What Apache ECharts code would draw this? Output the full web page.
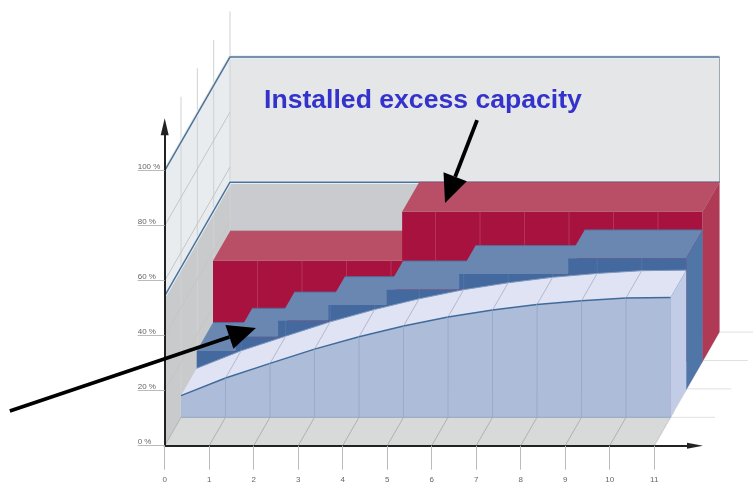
<!DOCTYPE html>
<html>
<head>
<meta charset="utf-8">
<style>html,body{margin:0;padding:0;background:#fff}#chart-container{width:753px;height:485px}</style>
<script src="https://cdn.jsdelivr.net/npm/echarts@6/dist/echarts.min.js"></script>
</head>
<body>
<div id="chart-container"></div>
<script>
// axis values
var xTicks = [0, 1, 2, 3, 4, 5, 6, 7, 8, 9, 10, 11];
var yTicks = [0, 20, 40, 60, 80, 100];

// installed capacity (red), steps: [from, to, percent]
var capacitySteps = [[0, 4.25, 36.7], [4.25, 11, 54.5]];
// blue staircase
var stepEdges = [0, 0.88, 1.83, 2.96, 4.27, 5.9, 8.35, 11];
var stepLevels = [14.2, 19.4, 25.3, 30.9, 36.6, 42.2, 47.9];
// light blue curve, one value per x tick
var curveValues = [7.9, 14.3, 19.6, 24.8, 29.3, 33.2, 36.5, 39, 41, 42.4, 43.4, 43.6];
var capacityLine = 54.5;
var wallTop = 116.6;

// annotation arrows in axis values: [tailX, tailY, tipX, tipY]
var arrows = [[7.02, 118.4, 6.3, 88.3], [-3.48, 12.6, 2.05, 42.8]];

// oblique projection: depth 0 is the axis plane, depth 1 the back wall
var DEPTH_DX = 65.3;
var DEPTH_DY = -113.6;

function pt(api, x, y, d) {
    var p = api.coord([x, y]);
    return [p[0] + d * DEPTH_DX, p[1] + d * DEPTH_DY];
}
function poly(points, fill) {
    return { type: 'polygon', shape: { points: points }, style: { fill: fill } };
}
function line(points, color, width) {
    return { type: 'polyline', shape: { points: points }, style: { fill: null, stroke: color, lineWidth: width || 1 } };
}

// box between two depths, drawn left to right so the next step covers this one
function renderBox(api, x0, x1, level, d0, d1, c, isLast) {
    var kids = [];
    kids.push(poly([pt(api, x0, level, d0), pt(api, x1, level, d0), pt(api, x1, 0, d0), pt(api, x0, 0, d0)], c.face));
    xTicks.forEach(function (t) {
        if (t > x0 && t < x1) {
            kids.push(line([pt(api, t, level, d0), pt(api, t, 0, d0)], c.grid));
        }
    });
    kids.push(poly([pt(api, x0, level, d0), pt(api, x1, level, d0), pt(api, x1, level, d1), pt(api, x0, level, d1)], c.top));
    if (isLast) {
        kids.push(poly([pt(api, x1, level, d0), pt(api, x1, level, d1), pt(api, x1, 0, d1), pt(api, x1, 0, d0)], c.side));
    }
    kids.push(line([pt(api, x0, level, d1), pt(api, x1, level, d1)], c.edge));
    return { type: 'group', children: kids };
}

function renderWalls(params, api) {
    var kids = [];
    var xMax = xTicks[xTicks.length - 1];
    var gridCol = '#c4c6c8';
    // upper back and side panes
    kids.push(poly([pt(api, 0, 100, 1), pt(api, xMax, 100, 1), pt(api, xMax, capacityLine, 1), pt(api, 0, capacityLine, 1)], '#e4e6e8'));
    kids.push(poly([pt(api, 0, 100, 0), pt(api, 0, 100, 1), pt(api, 0, capacityLine, 1), pt(api, 0, capacityLine, 0)], '#e9ecee'));
    // lower back and side panes, floor
    kids.push(poly([pt(api, 0, capacityLine, 1), pt(api, xMax, capacityLine, 1), pt(api, xMax, 0, 1), pt(api, 0, 0, 1)], '#c9cbce'));
    kids.push(poly([pt(api, 0, capacityLine, 0), pt(api, 0, capacityLine, 1), pt(api, 0, 0, 1), pt(api, 0, 0, 0)], '#c8cacc'));
    kids.push(poly([pt(api, 0, 0, 0), pt(api, xMax, 0, 0), pt(api, xMax, 0, 1), pt(api, 0, 0, 1)], '#d8dada'));
    // depth lines on the side wall
    [0.25, 0.5, 0.75, 1].forEach(function (d) {
        kids.push(line([pt(api, 0, 0, d), pt(api, 0, wallTop, d)], '#cfd1d4'));
        kids.push(line([pt(api, xMax, 0, d), pt(api, xMax + 1, 0, d)], '#e0e0e0'));
    });
    yTicks.forEach(function (v) {
        if (v > 0 && v < 100) {
            kids.push(line([pt(api, 0, v, 0), pt(api, 0, v, 1)], gridCol));
        }
    });
    // floor lines
    xTicks.forEach(function (t) {
        kids.push(line([pt(api, t, 0, 0), pt(api, t, 0, 0.3)], '#b0b2b2'));
    });
    kids.push(line([pt(api, xMax, 0, 0), pt(api, xMax, 0, 1)], '#d8d8d8'));
    // 100 % frame and capacity frame, each with a pale halo
    var frameTop = [pt(api, 0, 100, 0), pt(api, 0, 100, 1), pt(api, xMax, 100, 1)];
    var frameLow = [pt(api, 0, capacityLine, 0), pt(api, 0, capacityLine, 1), pt(api, xMax, capacityLine, 1)];
    kids.push(line(frameTop, '#e3eef5', 3.5));
    kids.push(line(frameLow, '#e3eef5', 3.5));
    kids.push(line([pt(api, xMax, 100, 1), pt(api, xMax, capacityLine, 1)], '#9aa6b4'));
    kids.push(line(frameTop, '#56738f', 1.5));
    kids.push(line(frameLow, '#4f7196', 1.5));
    return { type: 'group', children: kids };
}

var redCol = { face: '#a8123f', top: '#b84f66', side: '#b03a56', grid: '#b5345c', edge: '#a84a60' };
var blueCol = { face: '#43699f', top: '#6a87b2', side: '#5076a8', grid: '#4f74a8', edge: '#4f6f9c' };

function renderCapacity(params, api) {
    var i = params.dataIndex;
    return renderBox(api, api.value(0), api.value(1), api.value(2), 0.74, 1, redCol, i === capacitySteps.length - 1);
}
function renderSteps(params, api) {
    var i = params.dataIndex;
    return renderBox(api, api.value(0), api.value(1), api.value(2), 0.49, 0.74, blueCol, i === stepLevels.length - 1);
}

// one strip of the curved block per tick interval
function renderCurve(params, api) {
    var x0 = api.value(0), y0 = api.value(1), x1 = api.value(2), y1 = api.value(3);
    var d0 = 0.25, d1 = 0.49;
    var kids = [];
    kids.push(poly([pt(api, x0, y0, d0), pt(api, x1, y1, d0), pt(api, x1, 0, d0), pt(api, x0, 0, d0)], '#adbcd9'));
    kids.push(poly([pt(api, x0, y0, d0), pt(api, x1, y1, d0), pt(api, x1, y1, d1), pt(api, x0, y0, d1)], '#e0e3f3'));
    kids.push(line([pt(api, x0, y0, d1), pt(api, x1, y1, d1)], '#7f97bd'));
    if (x0 > 0) {
        kids.push(line([pt(api, x0, y0, d0), pt(api, x0, 0, d0)], '#9babc8'));
        kids.push(line([pt(api, x0, y0, d0), pt(api, x0, y0, d1)], '#bcbed2'));
    }
    if (x1 === xTicks[xTicks.length - 1]) {
        kids.push(line([pt(api, x1, y1, d0), pt(api, x1, 0, d0)], '#94a4c2'));
        kids.push(poly([pt(api, x1, y1, d0), pt(api, x1, y1, d1), pt(api, x1, 0, d1), pt(api, x1, 0, d0)], '#c3cce6'));
    }
    kids.push(line([pt(api, x0, 0, d0), pt(api, x1, 0, d0)], '#94a4c2'));
    kids.push(line([pt(api, x0, y0, d0), pt(api, x1, y1, d0)], '#3f6b9b', 1.5));
    return { type: 'group', children: kids };
}

function renderArrow(params, api) {
    var tail = api.coord([api.value(0), api.value(1)]);
    var tip = api.coord([api.value(2), api.value(3)]);
    var dx = tip[0] - tail[0], dy = tip[1] - tail[1];
    var len = Math.sqrt(dx * dx + dy * dy);
    var ux = dx / len, uy = dy / len;
    var headLen = 28, headHalf = 12.5;
    var base = [tip[0] - ux * headLen, tip[1] - uy * headLen];
    return {
        type: 'group',
        children: [
            { type: 'line', shape: { x1: tail[0], y1: tail[1], x2: base[0], y2: base[1] }, style: { stroke: '#000', lineWidth: 3.8 } },
            poly([tip, [base[0] - uy * headHalf, base[1] + ux * headHalf], [base[0] + uy * headHalf, base[1] - ux * headHalf]], '#000')
        ]
    };
}

var stepData = stepLevels.map(function (v, i) { return [stepEdges[i], stepEdges[i + 1], v]; });
var curveData = curveValues.slice(1).map(function (v, i) { return [xTicks[i], curveValues[i], xTicks[i + 1], v]; });

var myChart = echarts.init(document.getElementById('chart-container'));
myChart.setOption({
    animation: false,
    backgroundColor: '#fff',
    title: {
        text: 'Installed excess capacity',
        left: 264,
        top: 87,
        padding: 0,
        textStyle: { fontFamily: 'Liberation Sans', fontWeight: 'bold', fontSize: 26.6, color: '#3333cc' }
    },
    // axis ends stop short of the arrow tips: 11.917 ticks and 116 %
    grid: { left: 164.7, top: 126.7, width: 530.3, height: 319 },
    xAxis: {
        type: 'value', min: 0, max: 11.917, z: 10,
        splitLine: { show: false },
        axisLine: {
            lineStyle: { color: '#222', width: 2 },
            symbol: ['none', 'triangle'], symbolSize: [6, 16]
        },
        axisTick: { customValues: xTicks, length: 24, lineStyle: { color: '#bbb' } },
        axisLabel: {
            customValues: xTicks, margin: 30, fontSize: 8,
            fontFamily: 'Liberation Sans', color: '#666'
        }
    },
    yAxis: {
        type: 'value', min: 0, max: 116, z: 10,
        splitLine: { show: false },
        axisLine: {
            lineStyle: { color: '#222', width: 2 },
            symbol: ['none', 'triangle'], symbolSize: [8, 17]
        },
        axisTick: { customValues: yTicks, length: 27, lineStyle: { color: '#bbb' } },
        axisLabel: {
            customValues: yTicks, margin: 27, fontSize: 8, align: 'left', verticalAlign: 'bottom',
            fontFamily: 'Liberation Sans', color: '#666',
            formatter: '{value} %'
        }
    },
    series: [
        { type: 'custom', z: 2, data: [[0]], renderItem: renderWalls, silent: true },
        { type: 'custom', z: 3, data: capacitySteps, renderItem: renderCapacity, silent: true },
        { type: 'custom', z: 4, data: stepData, renderItem: renderSteps, silent: true },
        { type: 'custom', z: 5, data: curveData, renderItem: renderCurve, silent: true },
        { type: 'custom', z: 20, data: arrows, renderItem: renderArrow, silent: true }
    ]
});
</script>
</body>
</html>
